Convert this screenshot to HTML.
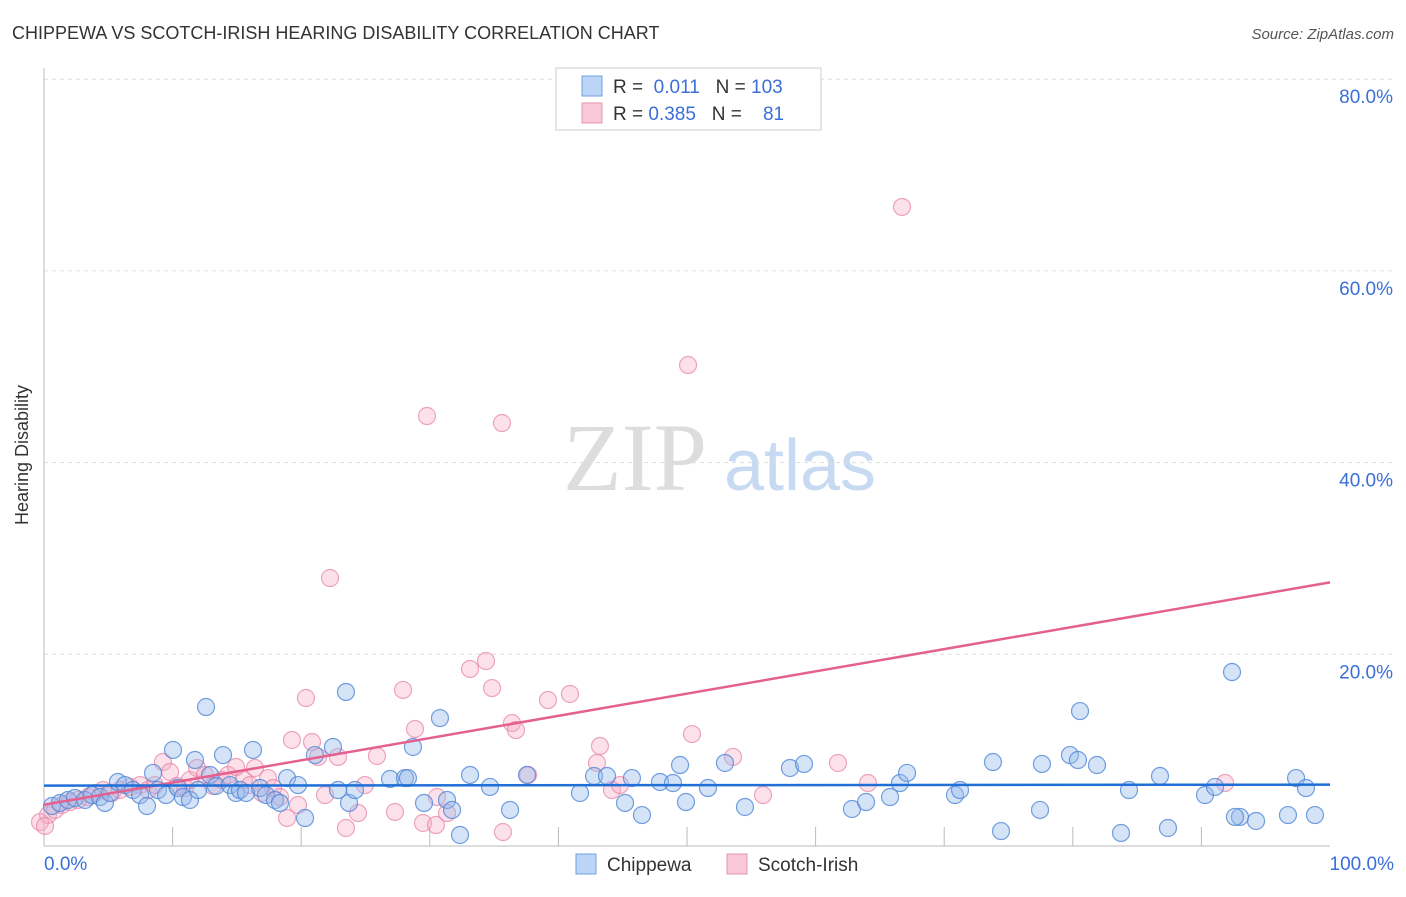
<!DOCTYPE html>
<html><head><meta charset="utf-8"><style>
body{margin:0;background:#fff;font-family:"Liberation Sans",sans-serif}
</style></head><body>
<svg width="1406" height="892" xmlns="http://www.w3.org/2000/svg">
<text x="12" y="39" font-size="18" fill="#333">CHIPPEWA VS SCOTCH-IRISH HEARING DISABILITY CORRELATION CHART</text>
<text x="1394" y="39" font-size="15" fill="#555" font-style="italic" text-anchor="end">Source: ZipAtlas.com</text>
<g>
<text x="635" y="490" font-size="96" font-family="Liberation Serif,serif" fill="#ddd" text-anchor="middle">ZIP</text>
<text x="800" y="490" font-size="72" fill="#c8daf2" text-anchor="middle">atlas</text>
</g>
<g id="grid"></g>
<line x1="44" y1="68" x2="44" y2="846" stroke="#bbb"/>
<line x1="44" y1="846" x2="1330" y2="846" stroke="#bbb"/>
<text x="28" y="455" font-size="18" fill="#333" transform="rotate(-90 28 455)" text-anchor="middle">Hearing Disability</text>
<text x="44" y="870" font-size="19" fill="#3a6fd8">0.0%</text>
<text x="1394" y="870" font-size="19" fill="#3a6fd8" text-anchor="end">100.0%</text>
<g id="pts"></g>
<g id="lines"></g>
<g>
<rect x="556" y="68" width="265" height="62" fill="#fff" stroke="#ccc"/>
<rect x="582" y="76" width="20" height="20" fill="#bcd4f5" stroke="#6f9fe0"/>
<rect x="582" y="103" width="20" height="20" fill="#f8c8d6" stroke="#e894ae"/>
<text x="613" y="93" font-size="19" fill="#333">R = <tspan fill="#3a6fd8">&#160;0.011</tspan>&#160;&#160;&#160;N = <tspan fill="#3a6fd8">103</tspan></text>
<text x="613" y="120" font-size="19" fill="#333">R = <tspan fill="#3a6fd8">0.385</tspan>&#160;&#160;&#160;N = <tspan fill="#3a6fd8">&#160;&#160;&#160;81</tspan></text>
</g>
<g><rect x="576" y="854" width="20" height="20" fill="#bcd4f5" stroke="#6f9fe0"/><text x="607" y="871" font-size="19" fill="#333">Chippewa</text></g>
<g><rect x="727" y="854" width="20" height="20" fill="#f8c8d6" stroke="#e894ae"/><text x="758" y="871" font-size="19" fill="#333">Scotch-Irish</text></g>
</svg>
<script>
const yTicks=[20,40,60,80];
const xTicks=[10,20,30,40,50,60,70,80,90];
const bluePx=[[52,806],[60,803],[68,800],[75,798],[85,800],[92,795],[100,797],[105,803],[110,793],[118,782],[125,785],[133,790],[140,795],[147,806],[153,773],[158,790],[166,795],[173,750],[178,788],[183,797],[190,800],[195,760],[198,790],[206,707],[210,775],[216,786],[223,755],[230,785],[236,793],[240,790],[246,793],[253,750],[260,788],[266,795],[275,800],[280,803],[287,778],[298,785],[305,818],[315,755],[333,747],[338,790],[346,692],[349,803],[355,790],[390,779],[405,778],[408,778],[413,747],[424,803],[440,718],[447,800],[452,810],[460,835],[470,775],[490,787],[510,810],[527,775],[580,793],[594,776],[607,776],[625,803],[632,778],[642,815],[660,782],[673,783],[680,765],[686,802],[708,788],[725,763],[745,807],[790,768],[804,764],[852,809],[866,802],[890,797],[900,783],[907,773],[955,795],[960,790],[993,762],[1001,831],[1040,810],[1042,764],[1070,755],[1078,760],[1080,711],[1097,765],[1129,790],[1160,776],[1168,828],[1205,795],[1215,787],[1232,672],[1240,817],[1256,821],[1288,815],[1296,778],[1306,788],[1315,815],[1121,833],[1235,817]];
const pinkPx=[[48,815],[55,810],[62,805],[70,802],[78,800],[88,797],[95,793],[103,790],[112,793],[120,790],[130,787],[140,785],[148,790],[155,785],[163,762],[170,772],[177,786],[185,788],[190,780],[197,768],[205,775],[213,786],[222,780],[228,775],[236,767],[244,780],[250,785],[255,768],[262,793],[268,778],[273,788],[280,797],[287,818],[292,740],[298,805],[306,698],[312,742],[318,757],[325,795],[330,578],[338,757],[346,828],[358,813],[365,785],[377,756],[395,812],[403,690],[415,729],[423,823],[427,416],[436,825],[437,797],[447,813],[470,669],[486,661],[492,688],[502,423],[503,832],[512,723],[516,730],[528,775],[548,700],[570,694],[597,763],[600,746],[612,790],[620,785],[688,365],[692,734],[733,757],[763,795],[838,763],[868,783],[902,207],[1225,783],[40,822],[45,826]];
// convert estimated readings to data values (%)
const chippewaX=bluePx.map(p=>+((p[0]-44)/12.86).toFixed(2));
const chippewaY=bluePx.map(p=>+((846-p[1])/9.585).toFixed(2));
const scotchX=pinkPx.map(p=>+((p[0]-44)/12.86).toFixed(2));
const scotchY=pinkPx.map(p=>+((846-p[1])/9.585).toFixed(2));
const blueTrend=[6.3,6.4];
const pinkTrend=[4.3,27.5];
const NS='http://www.w3.org/2000/svg';
const sx=v=>44+v*12.86, sy=v=>846-v*9.585;
const grid=document.getElementById('grid');
yTicks.forEach(t=>{
 const l=document.createElementNS(NS,'line');
 l.setAttribute('x1',44);l.setAttribute('x2',1394);l.setAttribute('y1',sy(t));l.setAttribute('y2',sy(t));
 l.setAttribute('stroke','#ddd');l.setAttribute('stroke-dasharray','4,4');
 
 
 grid.appendChild(l);
 const tx=document.createElementNS(NS,'text');
 tx.setAttribute('x',1393);tx.setAttribute('y',sy(t)+24);tx.setAttribute('text-anchor','end');
 tx.setAttribute('font-size','19');tx.setAttribute('fill','#3a6fd8');tx.textContent=t.toFixed(1)+'%';
 
 
 grid.appendChild(tx);
});
xTicks.forEach(t=>{
 const l=document.createElementNS(NS,'line');
 l.setAttribute('x1',sx(t));l.setAttribute('x2',sx(t));l.setAttribute('y1',827);l.setAttribute('y2',846);
 l.setAttribute('stroke','#bbb');
 
 
 grid.appendChild(l);
});
const pts=document.getElementById('pts');
function dots(xs,ys,fill,stroke,name){
 xs.forEach((x,i)=>{
  const c=document.createElementNS(NS,'circle');
  c.setAttribute('cx',sx(x));c.setAttribute('cy',sy(ys[i]));c.setAttribute('r',8.5);
  c.setAttribute('fill',fill);c.setAttribute('stroke',stroke);c.setAttribute('stroke-width','1.2');
  
  
  pts.appendChild(c);
 });
}
dots(scotchX,scotchY,'rgba(245,170,195,0.35)','rgba(230,130,165,0.7)','scotch-irish-point');
dots(chippewaX,chippewaY,'rgba(150,185,235,0.4)','rgba(80,135,215,0.8)','chippewa-point');
const lines=document.getElementById('lines');
function tl(v,col,name){
 const l=document.createElementNS(NS,'line');
 l.setAttribute('x1',sx(0));l.setAttribute('x2',sx(100));l.setAttribute('y1',sy(v[0]));l.setAttribute('y2',sy(v[1]));
 l.setAttribute('stroke',col);l.setAttribute('stroke-width','2.5');
 
 
 lines.appendChild(l);
}
tl(pinkTrend,'#e3608f','scotch-irish-trend-line');
tl(blueTrend,'#1f6fd6','chippewa-trend-line');
</script>
</body></html>
